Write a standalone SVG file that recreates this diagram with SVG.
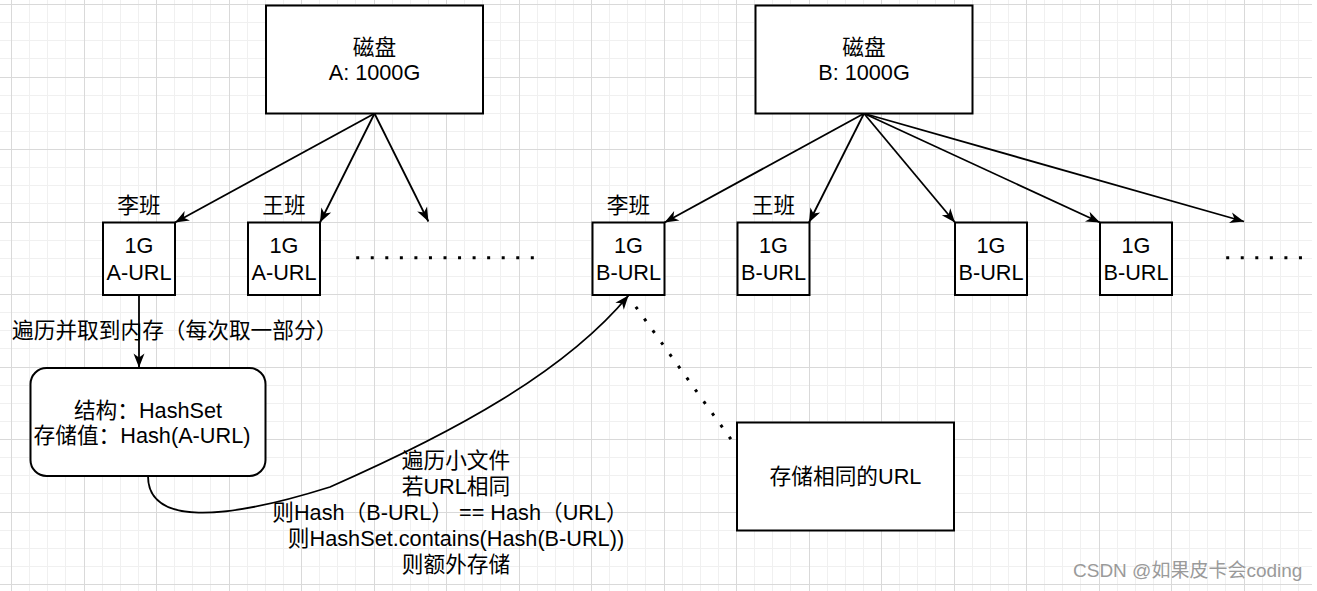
<svg xmlns="http://www.w3.org/2000/svg" width="1317" height="591" viewBox="0 0 1317 591">
<style>
.box{fill:#ffffff;stroke:#000000;stroke-width:2}
.edge{fill:none;stroke:#000000;stroke-width:1.8}
.dots{fill:none;stroke:#000000;stroke-width:3;stroke-dasharray:3 11.55}
text{font-family:"Liberation Sans","Noto Sans CJK SC",sans-serif;font-size:21.7px;fill:#000000}
.c{text-anchor:middle}
.gmin{fill:none;stroke:#f0f0f0;stroke-width:1}
.gmaj{fill:none;stroke:#d9d9d9;stroke-width:1}
.wm{font-size:19px;fill:#9a9a9a;stroke:#ffffff;stroke-width:0.6;paint-order:stroke}
</style>
<defs>
<marker id="arr" markerUnits="userSpaceOnUse" viewBox="-15 -7 16 14" refX="0" refY="0" markerWidth="16" markerHeight="14" orient="auto">
<path d="M0,0 L-14,-5.5 L-10,0 L-14,5.5 Z" fill="#000000"/>
</marker>
</defs>
<rect x="0" y="0" width="1317" height="591" fill="#ffffff"/>
<g id="grid">
<path class="gmin" d="M29.5,0V591M47.5,0V591M65.5,0V591M102.5,0V591M120.5,0V591M138.5,0V591M174.5,0V591M192.5,0V591M210.5,0V591M247.5,0V591M265.5,0V591M283.5,0V591M319.5,0V591M337.5,0V591M355.5,0V591M392.5,0V591M410.5,0V591M428.5,0V591M464.5,0V591M482.5,0V591M500.5,0V591M537.5,0V591M555.5,0V591M573.5,0V591M609.5,0V591M627.5,0V591M645.5,0V591M682.5,0V591M700.5,0V591M718.5,0V591M754.5,0V591M772.5,0V591M790.5,0V591M827.5,0V591M845.5,0V591M863.5,0V591M899.5,0V591M917.5,0V591M935.5,0V591M972.5,0V591M990.5,0V591M1008.5,0V591M1044.5,0V591M1062.5,0V591M1080.5,0V591M1117.5,0V591M1135.5,0V591M1153.5,0V591M1189.5,0V591M1207.5,0V591M1225.5,0V591M1262.5,0V591M1280.5,0V591M1298.5,0V591M0,22.5H1312M0,40.5H1312M0,58.5H1312M0,95.5H1312M0,113.5H1312M0,131.5H1312M0,167.5H1312M0,185.5H1312M0,203.5H1312M0,240.5H1312M0,258.5H1312M0,276.5H1312M0,312.5H1312M0,330.5H1312M0,348.5H1312M0,385.5H1312M0,403.5H1312M0,421.5H1312M0,457.5H1312M0,475.5H1312M0,493.5H1312M0,530.5H1312M0,548.5H1312M0,566.5H1312"/>
<path class="gmaj" d="M11.5,0V591M84.5,0V591M156.5,0V591M229.5,0V591M301.5,0V591M374.5,0V591M446.5,0V591M519.5,0V591M591.5,0V591M664.5,0V591M736.5,0V591M809.5,0V591M881.5,0V591M954.5,0V591M1026.5,0V591M1099.5,0V591M1171.5,0V591M1244.5,0V591M0,4.5H1312M0,77.5H1312M0,149.5H1312M0,222.5H1312M0,294.5H1312M0,367.5H1312M0,439.5H1312M0,512.5H1312M0,584.5H1312"/>
</g>
<g id="connectors">
<path class="edge" d="M374.5,113.5 L175,222.5" marker-end="url(#arr)"/>
<path class="edge" d="M374.5,113.5 L320,222.5" marker-end="url(#arr)"/>
<path class="edge" d="M374.5,113.5 L428.4,221.5" marker-end="url(#arr)"/>
<path class="edge" d="M864,113.5 L664.5,222.5" marker-end="url(#arr)"/>
<path class="edge" d="M864,113.5 L809,222.5" marker-end="url(#arr)"/>
<path class="edge" d="M864,113.5 L955,222.5" marker-end="url(#arr)"/>
<path class="edge" d="M864,113.5 L1100,222.5" marker-end="url(#arr)"/>
<path class="edge" d="M864,113.5 L1244,221.5" marker-end="url(#arr)"/>
<path class="edge" d="M139,295 L139,367.5" marker-end="url(#arr)"/>
<path class="edge" d="M148,476 C148,525 222,521 330,487 C455,432 565,372 628.5,295.5" marker-end="url(#arr)"/>
<path class="dots" d="M635.8,306.8 L736.5,447"/>
<path class="dots" d="M356.2,257.7 H535"/>
<path class="dots" d="M1226.2,257.7 H1303"/>
<text x="12" y="338">遍历并取到内存（每次取一部分）</text>
<g class="c">
<text x="456" y="468">遍历小文件</text>
<text x="456" y="494">若URL相同</text>
<text x="450" y="520">则Hash（B-URL） == Hash（URL）</text>
<text x="456" y="546">则HashSet.contains(Hash(B-URL))</text>
<text x="456" y="572">则额外存储</text>
</g>
</g>
<g id="diskA">
<rect class="box" x="266" y="5.5" width="217" height="108"/>
<text class="c" x="374.5" y="54.5">磁盘</text>
<text class="c" x="374.5" y="80">A: 1000G</text>
</g>
<g id="diskB">
<rect class="box" x="755.5" y="5.5" width="217" height="108"/>
<text class="c" x="864" y="54.5">磁盘</text>
<text class="c" x="864" y="80">B: 1000G</text>
</g>
<g id="a1">
<text class="c" x="139" y="213">李班</text>
<rect class="box" x="103" y="222.5" width="72" height="72.5"/>
<text class="c" x="139" y="253">1G</text>
<text class="c" x="139" y="279.5">A-URL</text>
</g>
<g id="a2">
<text class="c" x="284" y="213">王班</text>
<rect class="box" x="248" y="222.5" width="72" height="72.5"/>
<text class="c" x="284" y="253">1G</text>
<text class="c" x="284" y="279.5">A-URL</text>
</g>
<g id="b1">
<text class="c" x="628.5" y="213">李班</text>
<rect class="box" x="592.5" y="222.5" width="72" height="72.5"/>
<text class="c" x="628.5" y="253">1G</text>
<text class="c" x="628.5" y="279.5">B-URL</text>
</g>
<g id="b2">
<text class="c" x="773.5" y="213">王班</text>
<rect class="box" x="737.5" y="222.5" width="72" height="72.5"/>
<text class="c" x="773.5" y="253">1G</text>
<text class="c" x="773.5" y="279.5">B-URL</text>
</g>
<g id="b3">
<rect class="box" x="955" y="222.5" width="72" height="72.5"/>
<text class="c" x="991" y="253">1G</text>
<text class="c" x="991" y="279.5">B-URL</text>
</g>
<g id="b4">
<rect class="box" x="1100" y="222.5" width="72" height="72.5"/>
<text class="c" x="1136" y="253">1G</text>
<text class="c" x="1136" y="279.5">B-URL</text>
</g>
<g id="hashset">
<rect class="box" x="30.5" y="368" width="235" height="108" rx="16" ry="16"/>
<text class="c" x="148" y="417.5">结构：HashSet</text>
<text class="c" x="142" y="443">存储值：Hash(A-URL)</text>
</g>
<g id="store">
<rect class="box" x="737" y="422.5" width="217" height="108"/>
<text class="c" x="845.5" y="484">存储相同的URL</text>
</g>
<text class="wm" x="1073" y="576.5">CSDN @如果皮卡会coding</text>
</svg>
